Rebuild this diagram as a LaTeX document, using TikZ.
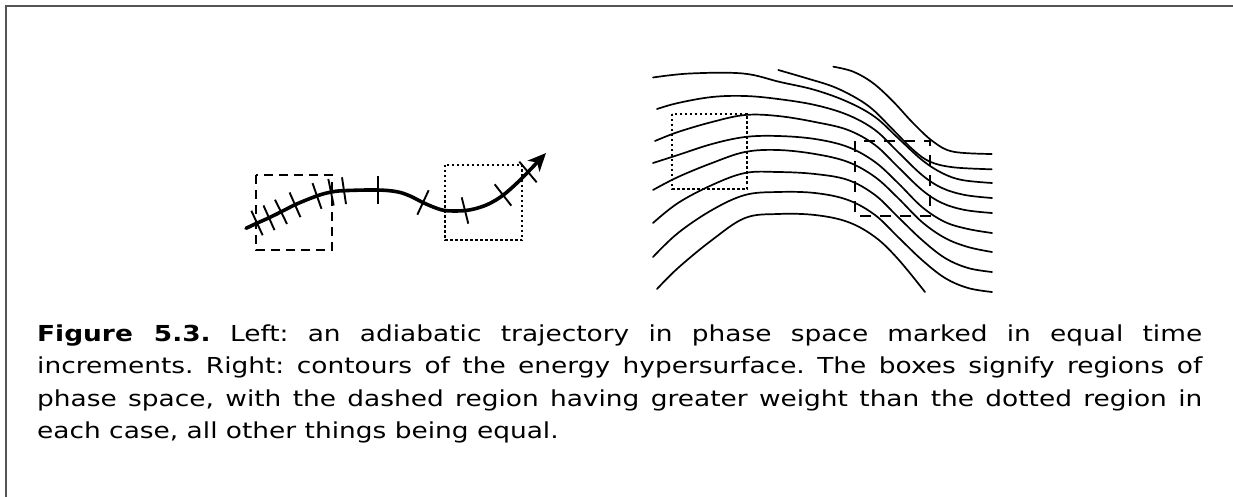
\documentclass[tikz,border=0pt]{standalone}
\usepackage{fontspec}
\setmainfont{DejaVu Sans}
\newfontfamily\capfont[FakeStretch=1.2]{DejaVu Sans}
\usetikzlibrary{arrows.meta}
\begin{document}
\begin{tikzpicture}[x=1pt,y=-1pt,
  frame/.style={draw=black!67, line width=2pt},
  traj/.style={line width=3.6pt, line cap=round},
  tickmark/.style={line width=1.9pt, shorten <=-2pt, shorten >=-2pt},
  contour/.style={line width=1.7pt, line cap=round},
  dashboxL/.style={line width=2.8pt, dash pattern=on 9pt off 6pt},
  dashboxR/.style={line width=2.8pt, dash pattern=on 11pt off 9pt},
  dotbox/.style={line width=2.9pt, dash pattern=on 2.5pt off 2.5pt},
]
\useasboundingbox (0,0) rectangle (1233,497);
\draw[frame] (6,497) -- (6,6) -- (1233,6);

% ---------- left: trajectory ----------
\draw[traj, -{Stealth[length=18pt,width=16pt,inset=5pt]}] plot[smooth, tension=0.6] coordinates {
 (246,228.3) (256.7,223.3) (270,217.3) (283.3,210.7) (296.7,204) (316.7,196) (330,192.3)
 (343.3,190.7) (376.7,190) (396.7,191.7) (410,196) (423.3,202.7) (436.7,208.3)
 (446.7,210.7) (463.3,210.7) (476.7,208.3) (490,203.3) (503.3,195) (516.7,183.3)
 (528.3,171.7) (546,153)};
\draw[tickmark] (261.8,233.4) -- (252.2,212.6);
\draw[tickmark] (273.7,228.3) -- (264.3,207.3);
\draw[tickmark] (286.1,222.1) -- (275.9,201.5);
\draw[tickmark] (299.6,215.3) -- (290.4,194.3);
\draw[tickmark] (320.8,206.9) -- (313.2,185.1);
\draw[tickmark] (333.3,203.5) -- (328.7,180.9);
\draw[tickmark] (345.7,202.1) -- (342.3,179.3);
\draw[tickmark] (378,201.5) -- (378,178.5);
\draw[tickmark] (418.2,212.9) -- (427.8,192.1);
\draw[tickmark] (467.8,221.7) -- (462.2,199.3);
\draw[tickmark] (510.1,204.1) -- (495.9,185.9);
\draw[tickmark] (535.4,180.8) -- (520.6,163.2);
\draw[dashboxL] (256,175) rectangle (332,250);
\draw[dotbox] (445,165) rectangle (522,240);

% ---------- right: energy contours ----------
\begin{scope}[contour]
\draw plot[smooth, tension=0.6] coordinates {(833.3,66.7) (853.3,71.7) (873.3,83.3) (893.3,101.7) (913.3,123.3) (933.3,141.7) (953.3,151.7) (991.7,154)};
\draw plot[smooth, tension=0.6] coordinates {(778.3,70) (806.7,78.3) (833.3,86.7) (856.7,98.3) (873.3,110) (893.3,130) (913.3,150) (930,161.7) (953.3,167.3) (991.7,169.3)};
\draw plot[smooth, tension=0.6] coordinates {(653,77.5) (690,73.5) (743,73.5) (780,82) (815,90) (848,102) (875,117) (898,138) (922,160) (942,173) (962,180) (992,183)};
\draw plot[smooth, tension=0.6] coordinates {(657,109) (678,103) (712,97) (745,96) (778,99) (815,105) (848,115) (875,130) (898,152) (922,175) (942,188) (965,195) (992,198)};
\draw plot[smooth, tension=0.6] coordinates {(655,141) (678,132) (712,122) (745,115) (778,116) (815,122) (848,130) (875,145) (898,167) (922,190) (942,203) (965,210) (992,213)};
\draw plot[smooth, tension=0.6] coordinates {(653,163) (678,155) (712,144) (745,137) (778,136) (815,139) (848,147) (875,162) (898,183) (922,207) (945,222) (968,229) (992,233)};
\draw plot[smooth, tension=0.6] coordinates {(653,190) (678,177) (712,163) (745,152) (778,150) (815,154) (848,162) (875,177) (898,198) (922,222) (945,238) (968,247) (992,252)};
\draw plot[smooth, tension=0.6] coordinates {(653,223) (678,203) (712,185) (745,173) (778,172) (815,174) (848,180) (875,195) (898,217) (922,240) (945,258) (968,268) (992,272)};
\draw plot[smooth, tension=0.6] coordinates {(653,257) (678,233) (712,210) (745,195) (778,192) (815,193) (848,200) (875,215) (898,237) (922,260) (945,278) (968,288) (992,292)};
\draw plot[smooth, tension=0.6] coordinates {(657,289) (678,268) (712,240) (745,218) (778,214) (815,215) (848,222) (875,237) (898,259) (925,292)};
\end{scope}
\draw[dotbox] (672,114) rectangle (747,189);
\draw[dashboxR] (855,141) rectangle (930,216);

% ---------- caption ----------
\node[anchor=base west, inner sep=0pt, text width=1165pt, align=justify,
      font=\capfont\fontsize{22}{32.5}\selectfont\frenchspacing] (cap) at (37,341)
 {\textbf{Figure 5.3.} Left: an adiabatic trajectory in phase space marked in equal time\linebreak
  increments. Right: contours of the energy hypersurface. The boxes signify regions of\linebreak
  phase space, with the dashed region having greater weight than the dotted region in\linebreak
  each case, all other things being equal.};
\end{tikzpicture}
\end{document}
